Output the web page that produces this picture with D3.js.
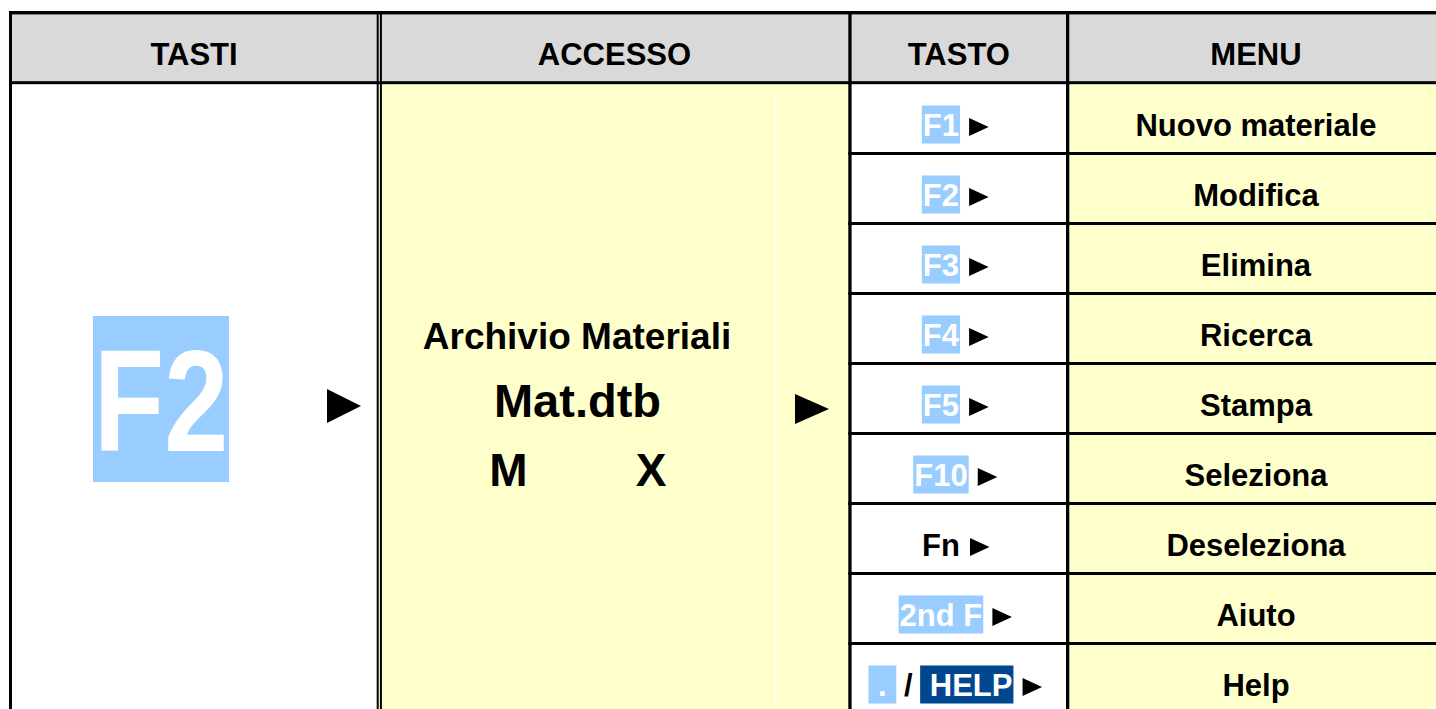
<!DOCTYPE html>
<html><head><meta charset="utf-8">
<script src="https://cdn.jsdelivr.net/npm/d3@7"></script>
<style>html,body{margin:0;padding:0;background:#fff;overflow:hidden}svg{display:block}</style>
</head><body>
<svg id="chart" width="1436" height="709"></svg>
<script>
// ---- data ----
const headers = ["TASTI", "ACCESSO", "TASTO", "MENU"];
const mainKey = "F2";
const accessTitle = "Archivio Materiali";
const accessFile = "Mat.dtb";
const accessFlags = ["M", "X"];
const keyLabels = [
  [["F1", "light"]],
  [["F2", "light"]],
  [["F3", "light"]],
  [["F4", "light"]],
  [["F5", "light"]],
  [["F10", "light"]],
  [["Fn", "plain"]],
  [["2nd F", "light"]],
  [[" . ", "light"], [" / ", "plain"], [" HELP", "dark"]]
];
const menuItems = ["Nuovo materiale", "Modifica", "Elimina", "Ricerca", "Stampa",
  "Seleziona", "Deseleziona", "Aiuto", "Help"];

// ---- layout ----
const W = 1436, H = 709;
const FONT = "'Liberation Sans', Arial, Helvetica, sans-serif";
const YELLOW = "#ffffcc", GRAY = "#d9d9d9", LIGHT = "#99ccff", DARK = "#00478f";
const colEdges = [10.5, 379.3, 850, 1067.7, 1445];
const topY = 12.5, headY = 83.5, rowH = 70;
const colCenters = [194, 614.5, 958.8, 1256];

const svg = d3.select("#chart");
const y = d3.scaleBand().domain(d3.range(menuItems.length))
  .range([headY, headY + rowH * menuItems.length]).paddingInner(0).paddingOuter(0);
const baseline = i => y(i) + y.bandwidth() / 2 + 17;

// backgrounds
svg.append("rect").attr("x", 0).attr("y", 0).attr("width", W).attr("height", H).attr("fill", "#fff");
svg.append("rect").attr("x", colEdges[0]).attr("y", topY).attr("width", W - colEdges[0]).attr("height", headY - topY).attr("fill", GRAY);
svg.append("rect").attr("x", colEdges[1]).attr("y", headY).attr("width", colEdges[2] - colEdges[1]).attr("height", H - headY).attr("fill", YELLOW);
svg.append("rect").attr("x", colEdges[3]).attr("y", headY).attr("width", W - colEdges[3]).attr("height", H - headY).attr("fill", YELLOW);
// faint internal split in ACCESSO column
svg.append("line").attr("x1", 775.5).attr("x2", 775.5).attr("y1", 94).attr("y2", 703)
  .attr("stroke", "#fff").attr("stroke-width", 1);

// header texts
svg.selectAll("text.head").data(headers).join("text").attr("class", "head")
  .attr("x", (d, i) => colCenters[i]).attr("y", 65)
  .attr("text-anchor", "middle").attr("font-family", FONT).attr("font-weight", "bold")
  .attr("font-size", 31).attr("fill", "#000").text(d => d);

// big key in column 1
const bigG = svg.append("g");
const bigBox = bigG.append("rect").attr("fill", LIGHT);
const bigT = bigG.append("text").attr("text-anchor", "middle").attr("font-family", FONT)
  .attr("font-weight", "bold").attr("font-size", 144).attr("fill", "#fff")
  .attr("transform", "translate(161,451) scale(0.8,1)").text(mainKey);
const bw = bigT.node().getComputedTextLength() * 0.81;
bigBox.attr("x", 161 - bw / 2).attr("y", 451 - 135).attr("width", bw).attr("height", 166);
svg.append("path").attr("d", "M327,389L361,406L327,423Z").attr("fill", "#000");

// access column texts
const acc = svg.append("g").attr("font-family", FONT).attr("font-weight", "bold").attr("fill", "#000").attr("text-anchor", "middle");
acc.append("text").attr("x", 577).attr("y", 349).attr("font-size", 37).text(accessTitle);
acc.append("text").attr("x", 577.5).attr("y", 417).attr("font-size", 47).text(accessFile);
acc.selectAll("text.flag").data(accessFlags).join("text").attr("class", "flag")
  .attr("x", (d, i) => [508.5, 651][i]).attr("y", 485.5).attr("font-size", 46).text(d => d);
svg.append("path").attr("d", "M795,394L829,409L795,424Z").attr("fill", "#000");

// key column
const probe = (t) => {
  const n = svg.append("text").attr("font-family", FONT).attr("font-weight", "bold").attr("font-size", 31).text(t);
  const w = n.node().getComputedTextLength(); n.remove(); return w;
};
const spaceW = probe("a a") - 2 * probe("a");

keyLabels.forEach((segs, i) => {
  const g = svg.append("g");
  const bl = baseline(i);
  const parts = segs.map(([t, s]) => {
    const txt = g.append("text").attr("font-family", FONT).attr("font-weight", "bold")
      .attr("font-size", 31).attr("xml:space", "preserve").style("white-space", "pre")
      .attr("fill", s === "plain" ? "#000" : "#fff").attr("y", bl).text(t);
    return {t, s, txt, w: txt.node().getComputedTextLength()};
  });
  const total = d3.sum(parts, p => p.w) + spaceW + 1.5 + 19;
  let x = 955.5 - total / 2;
  parts.forEach(p => {
    if (p.s !== "plain") {
      g.insert("rect", "text").attr("x", x - 1).attr("y", bl - 30).attr("width", p.w + 2).attr("height", 38)
        .attr("fill", p.s === "dark" ? DARK : LIGHT);
    }
    p.txt.attr("x", x);
    x += p.w;
  });
  x += spaceW + 1.5;
  g.append("path").attr("d", `M${x},${bl - 17.5}L${x + 19.5},${bl - 8.5}L${x},${bl + 0.5}Z`).attr("fill", "#000");
});

// menu column
svg.selectAll("text.menu").data(menuItems).join("text").attr("class", "menu")
  .attr("x", colCenters[3]).attr("y", (d, i) => baseline(i))
  .attr("text-anchor", "middle").attr("font-family", FONT).attr("font-weight", "bold")
  .attr("font-size", 31).attr("fill", "#000").text(d => d);

// borders
const lines = svg.append("g").attr("fill", "#000");
lines.append("rect").attr("x", 9).attr("y", 11).attr("width", W - 9).attr("height", 3.4);
lines.append("rect").attr("x", 9).attr("y", 81.2).attr("width", W - 9).attr("height", 3);
lines.append("rect").attr("x", 9).attr("y", 11).attr("width", 3).attr("height", H - 11);
lines.append("rect").attr("x", 376.7).attr("y", 11).attr("width", 2).attr("height", H - 11);
lines.append("rect").attr("x", 379.9).attr("y", 11).attr("width", 2).attr("height", H - 11);
lines.append("rect").attr("x", 848.3).attr("y", 11).attr("width", 3.3).attr("height", H - 11);
lines.append("rect").attr("x", 1066).attr("y", 11).attr("width", 3.3).attr("height", H - 11);
lines.selectAll("rect.row").data(d3.range(1, menuItems.length)).join("rect").attr("class", "row")
  .attr("x", 848.3).attr("y", d => y(d) - 1.5).attr("width", W - 848.3).attr("height", 3);
</script>
</body></html>
